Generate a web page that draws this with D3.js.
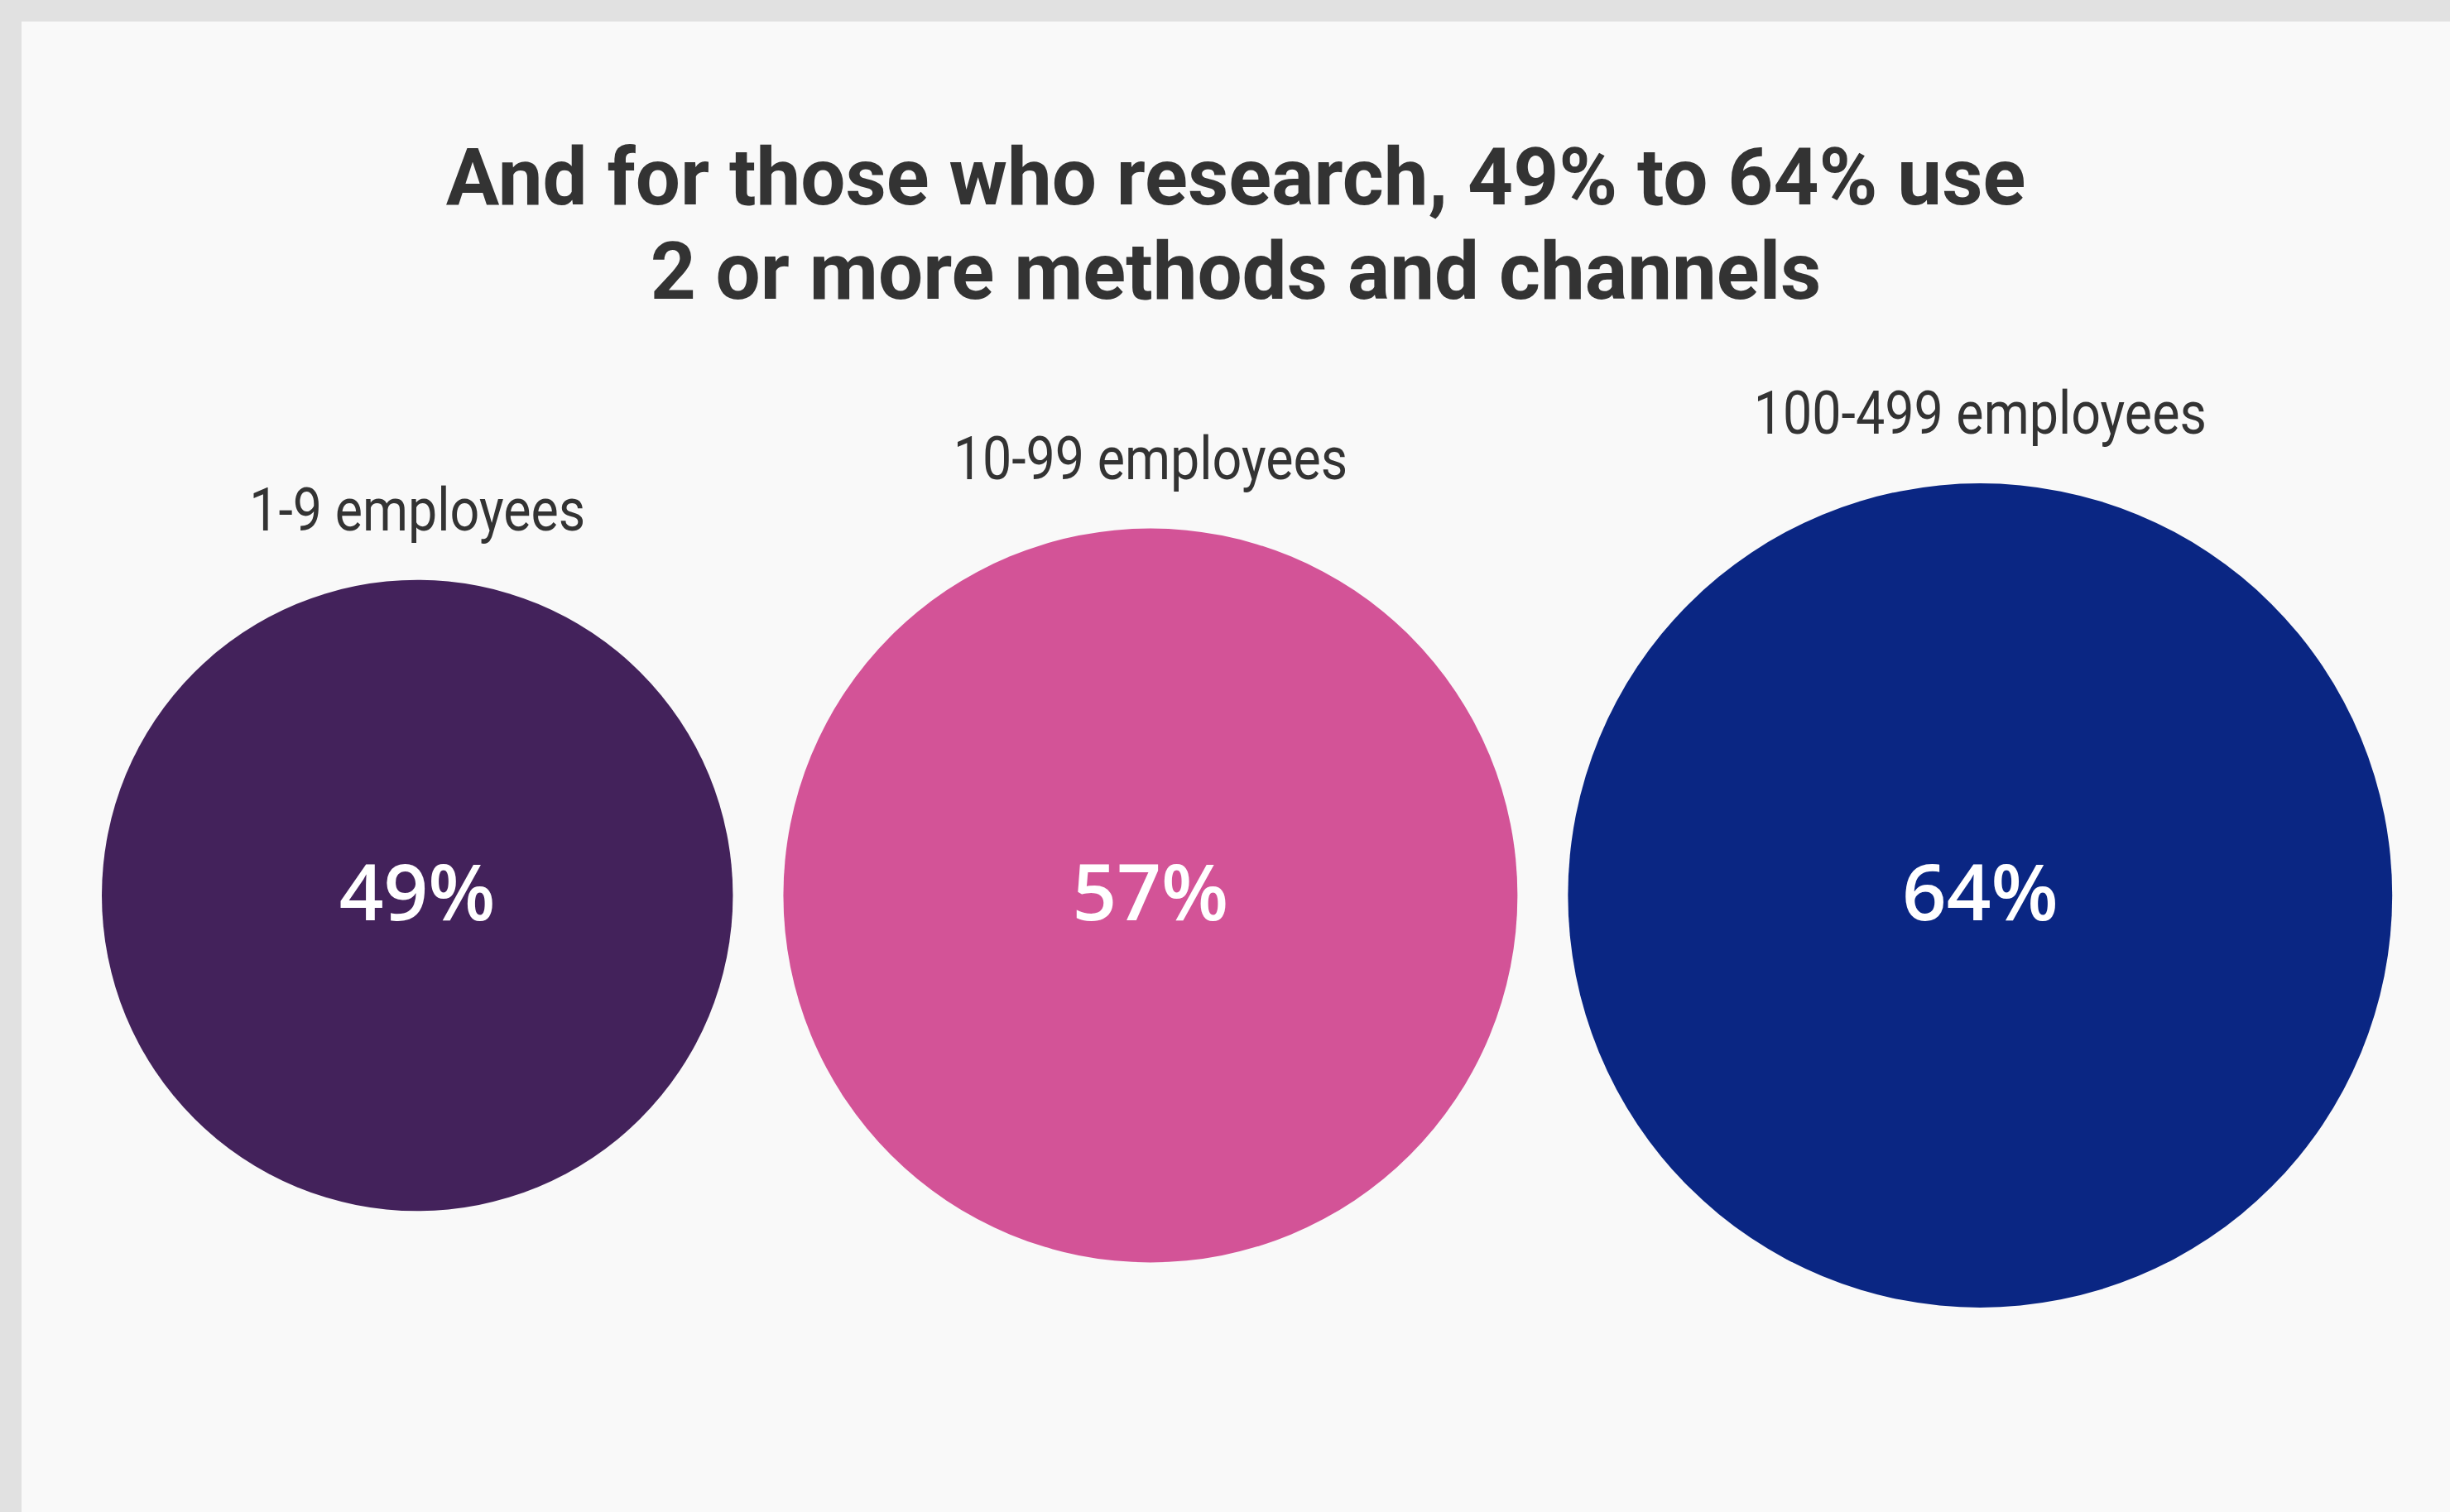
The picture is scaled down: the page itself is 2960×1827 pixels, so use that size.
<!DOCTYPE html>
<html>
<head>
<meta charset="utf-8">
<script src="https://cdn.jsdelivr.net/npm/d3@7"></script>
<style>
  html, body { margin: 0; padding: 0; background: #e1e1e1; }
  svg { display: block; }
</style>
</head>
<body>
<svg id="chart" width="2960" height="1827"></svg>
<script>
// data
const categories = ['1-9 employees', '10-99 employees', '100-499 employees'];
const shares = [49, 57, 64];
const colours = ['#43225b', '#d35397', '#0a2683'];
const titleLines = ['And for those who research, 49% to 64% use', '2 or more methods and channels'];

const svg = d3.select('#chart');
const width = +svg.attr('width');
const height = +svg.attr('height');

// card behind the chart
svg.append('rect')
    .attr('x', 26)
    .attr('y', 26)
    .attr('width', width - 26)
    .attr('height', height - 26)
    .attr('fill', '#f9f9f9');

// title, two centred lines
const titleX = 26 + (width - 26) / 2;
svg.selectAll('.title-line').data(titleLines)
  .enter().append('text')
    .attr('class', 'title-line')
    .attr('transform', (d, i) => `translate(${titleX},${247 + i * 114}) scale(0.99,1)`)
    .attr('text-anchor', 'middle')
    .style('font-family', 'Roboto, sans-serif')
    .style('font-weight', 700)
    .style('font-size', '97px')
    .style('fill', '#333333')
    .text(d => d);

// radius grows linearly with the share
const rScale = d3.scaleLinear()
    .domain([0, 100])
    .range([0, 778]);

const cy = 1082;
const gap = 61;
let cursor = 123;
const bubbles = categories.map((c, i) => {
    const r = rScale(shares[i]);
    const cx = cursor + r;
    cursor += 2 * r + gap;
    return { category: c, value: shares[i], colour: colours[i], r, cx };
});

const g = svg.selectAll('.bubble').data(bubbles)
  .enter().append('g')
    .attr('class', 'bubble');

g.append('circle')
    .attr('cx', d => d.cx)
    .attr('cy', cy)
    .attr('r', d => d.r)
    .attr('fill', d => d.colour);

g.append('text')
    .attr('class', 'value-label')
    .attr('x', d => d.cx)
    .attr('y', cy + 30)
    .attr('text-anchor', 'middle')
    .style('font-family', '"Open Sans", sans-serif')
    .style('font-weight', 600)
    .style('font-size', '94px')
    .style('fill', '#ffffff')
    .text(d => `${d.value}%`);

g.append('text')
    .attr('class', 'category-label')
    .attr('transform', d => `translate(${d.cx},${cy - d.r - 60}) scale(0.86,1)`)
    .attr('text-anchor', 'middle')
    .style('font-family', 'Roboto, sans-serif')
    .style('font-size', '73px')
    .style('fill', '#333333')
    .text(d => d.category);
</script>
</body>
</html>
